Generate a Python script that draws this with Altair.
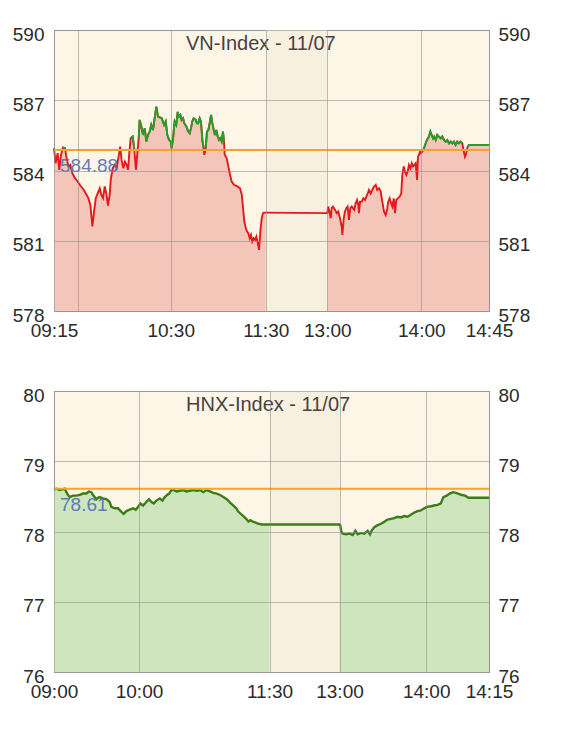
import altair as alt
import pandas as pd

# ---------------- VN-Index (11/07) ----------------
vn_am_time = [555, 556, 557.3, 558.3, 559.4, 560.6, 561.9, 562.7, 564, 565.2,
              566.5, 568.1, 569.8, 571.5, 573.2, 575, 576.7, 578, 579.3, 580.4,
              581.5, 582.8, 584.1, 585.1, 586.2, 587.3, 588.3, 589.4, 590.5, 591.3,
              592.5, 593.7, 595, 596.3, 597.3, 598.2, 599.3, 600.4, 601.5, 602.4,
              603.2, 604.1, 605.4, 606.4, 607.5, 608.4, 609.3, 609.9, 611, 612.1,
              613.2, 614.2, 615.3, 616.4, 617.4, 618.5, 619.6, 620.7, 621.8,
              624.2, 625.7, 626.8, 627.8, 628.9, 630, 630.6, 631.5, 632.5, 633.5,
              634.4, 635.2, 636.1, 636.9, 637.8, 638.6, 639.9, 641.1, 642, 642.8,
              643.6, 644.5, 645.8, 646.6, 647.4, 648.3, 649.1, 650, 650.8, 651.2,
              652.1, 652.9, 653.8, 654.6, 655.5, 656.3, 657.2, 658, 658.8, 659.7,
              660.5, 661.3, 662.2, 663, 663.7, 664.1, 665.4, 666.4, 667.5, 668.5,
              670, 672.1, 673.8, 674.9, 675.7, 676.5, 677.4, 678.2, 679, 679.9,
              680.7, 681.5, 682.4, 683.3, 684.1, 685, 685.8, 686.6, 687.5, 688.3,
              689.1, 690]
vn_am_value = [584.95, 584.31, 584.74, 584.03, 584.67, 584.98, 584.95, 584.60, 584.17, 584.24,
               583.88, 583.67, 583.53, 583.36, 583.22, 583.03, 582.82, 582.53, 581.61, 582.25,
               582.82, 583.03, 583.24, 582.96, 582.82, 583.32, 583.03, 582.50, 582.96, 583.67,
               584.10, 584.24, 584.10, 584.60, 585.02, 584.45, 584.10, 584.38, 584.24, 584.03,
               584.74, 585.38, 585.45, 584.95, 584.03, 584.74, 585.38, 586.16, 585.88, 585.52,
               585.80, 585.24, 585.52, 585.66, 585.95, 585.73, 586.23, 586.73, 586.30,
               586.23, 585.95, 586.09, 585.52, 585.31, 585.24, 584.95, 585.38, 586.09, 585.95,
               586.50, 586.30, 586.37, 586.16, 586.23, 586.02, 585.88, 585.66, 585.59, 585.80,
               586.09, 586.23, 586.16, 586.02, 586.02, 586.23, 586.09, 585.31, 584.95, 584.67,
               584.95, 585.66, 585.73, 586.02, 586.37, 586.02, 585.73, 585.52, 585.73, 585.45,
               585.31, 585.38, 585.24, 585.66, 585.24, 584.67, 584.52, 584.17, 583.81, 583.53,
               583.39, 583.32, 583.24, 582.96, 582.39, 581.82, 581.54, 581.39, 581.32, 581.11,
               581.25, 580.97, 581.11, 581.04, 581.18, 580.90, 580.61, 581.39, 581.96, 582.18,
               582.20, 582.20]
vn_pm_time = [780, 780.6, 781.1, 782.2, 782.8, 783.6, 784.9, 786, 787, 788.1,
              789.2, 789.6, 790.5, 791.3, 792.1, 793, 793.8, 794.7, 795.6, 796.4,
              797.2, 798.1, 799, 799.8, 800.2, 800.9, 802, 803, 804.1, 804.9,
              805.8, 806.6, 807.7, 808.7, 809.8, 810.9, 811.9, 813, 814.1, 815.1,
              816.2, 817.3, 818.3, 818.9, 819.8, 820.7, 821.5, 822.4, 823.2, 824,
              825, 826.2, 827.2, 827.9, 828.8, 829.6, 830.4, 831.3, 832.1, 833,
              833.9, 834.7, 835.6, 836.4, 837.3, 837.9, 838.5, 839.2, 839.8, 840.7,
              841.6, 842.5, 843.3, 844.3, 845.1, 846, 846.9, 847.8, 848.6, 849.6,
              850.6, 851.7, 852.9, 853.9, 855.1, 856.2, 857.3, 858.4, 859.5, 860.6,
              861.7, 862.8, 863.9, 865, 866.1, 867.2, 868.3, 869, 869.8, 870.8,
              871.7, 885]
vn_pm_value = [582.18, 582.46, 582.32, 581.96, 582.39, 582.46, 582.32, 582.18, 582.25, 581.96,
               581.60, 581.25, 581.96, 582.25, 582.39, 582.46, 581.89, 582.39, 582.46, 582.39,
               582.32, 582.60, 582.74, 582.53, 582.18, 582.67, 582.67, 582.81, 582.74, 582.88,
               583.02, 583.17, 583.02, 583.17, 583.31, 583.38, 583.17, 583.24, 583.10, 582.67,
               582.24, 582.10, 582.39, 582.67, 582.81, 582.60, 582.46, 582.81, 582.18, 582.74,
               582.81, 582.88, 583.02, 583.81, 584.17, 583.95, 583.81, 583.95, 584.24, 584.10,
               584.31, 584.17, 584.24, 584.31, 583.60, 584.59, 584.66, 584.81, 584.74, 584.81,
               584.92, 585.09, 585.23, 585.37, 585.45, 585.66, 585.52, 585.37, 585.45, 585.30,
               585.52, 585.45, 585.37, 585.45, 585.30, 585.23, 585.30, 585.16, 585.23, 585.16,
               585.23, 585.09, 585.23, 585.16, 585.23, 585.16, 584.80, 584.59, 584.73, 585.02,
               585.09, 585.09]
vn_ref = 584.88
vn_ticks_y = [578, 581, 584, 587, 590]
vn_ticks_x = [555, 570, 630, 690, 780, 840, 885]
vn_hidden_x = [570]

# ---------------- HNX-Index (11/07) ----------------
hnx_am_time = [540, 541.7, 544, 545.9, 547.6, 548.8, 549.9, 551.1, 553.4, 555.8,
               558.1, 560.5, 562.8, 564.7, 566.4, 567.5, 568.7, 569.9, 571, 572.2,
               574.6, 576.9, 579.3, 580.5, 582.8, 585.2, 587.6, 589.2, 591.1, 593.4,
               595.8, 597.7, 599.3, 601, 602.8, 605.1, 606.9, 608.6, 610.2, 612,
               614.3, 616.2, 617.8, 619.4, 620.8, 622.4, 624, 625.9, 628.2, 630.5,
               632.8, 635.1, 637.4, 639.8, 642, 644.3, 646.7, 649, 651.2, 653.6,
               655.9, 658.2, 660.5, 662.8, 665.1, 667, 668.6, 670.2, 672, 673.9,
               675.5, 676.7, 678.5, 680.1, 682.4, 684.8, 687, 689.3, 690]
hnx_am_value = [78.60, 78.61, 78.59, 78.60, 78.61, 78.56, 78.52, 78.49, 78.51, 78.51,
                78.52, 78.54, 78.54, 78.57, 78.56, 78.52, 78.49, 78.46, 78.48, 78.49,
                78.47, 78.46, 78.42, 78.35, 78.33, 78.33, 78.28, 78.25, 78.29, 78.31,
                78.33, 78.31, 78.35, 78.40, 78.37, 78.42, 78.46, 78.42, 78.40, 78.44,
                78.47, 78.44, 78.49, 78.52, 78.54, 78.59, 78.59, 78.57, 78.58, 78.59,
                78.57, 78.58, 78.59, 78.58, 78.59, 78.56, 78.59, 78.57, 78.55, 78.54,
                78.52, 78.49, 78.46, 78.41, 78.37, 78.33, 78.28, 78.25, 78.22, 78.18,
                78.14, 78.16, 78.14, 78.13, 78.11, 78.10, 78.10, 78.10, 78.10]
hnx_pm_time = [780, 780.5, 781.2, 782.3, 784.6, 786.9, 789.2, 791, 792.6, 794.9,
               797.2, 799.5, 801.1, 802.5, 804.1, 806.4, 808.7, 811, 813.2, 815.6,
               817.9, 820.1, 822.5, 824.8, 827.1, 829.4, 831.7, 834, 836.3, 838.6,
               840.2, 841.1, 841.9, 842.7, 843.5, 844.1, 844.9, 845.6, 846.4, 847.1,
               847.6, 848.5, 849.3, 850.1, 851.3, 853, 855]
hnx_pm_value = [78.10, 78.09, 78.00, 77.97, 77.96, 77.97, 77.95, 78.01, 77.96, 77.98,
                77.97, 78.01, 77.96, 78.02, 78.06, 78.09, 78.11, 78.14, 78.17, 78.18,
                78.19, 78.21, 78.20, 78.22, 78.21, 78.24, 78.27, 78.29, 78.30, 78.33,
                78.35, 78.36, 78.37, 78.38, 78.40, 78.49, 78.51, 78.54, 78.56, 78.55,
                78.54, 78.52, 78.51, 78.48, 78.48, 78.48, 78.48]
hnx_ref = 78.61
hnx_ticks_y = [76, 77, 78, 79, 80]
hnx_ticks_x = [540, 600, 690, 780, 840, 855]
hnx_hidden_x = []

W, H = 435, 281
BG = "#fdf6e7"
LUNCH = "#f8f0df"
FONT = "Liberation Sans"


def label_expr(hidden):
    base = ("(floor(datum.value/60) < 10 ? '0' : '') + floor(datum.value/60) + ':' + "
            "(datum.value % 60 < 10 ? '0' : '') + (datum.value % 60)")
    for h in hidden:
        base = f"datum.value == {h} ? '' : " + base
    return base


def panel(title, am_t, am_v, pm_t, pm_v, ref, yticks, xticks, xrange, hidden,
          fill, line_color, up_color, line_width):
    df_am = pd.DataFrame({"t": am_t, "v": am_v, "s": "am"})
    df_pm = pd.DataFrame({"t": pm_t, "v": pm_v, "s": "pm"})
    df = pd.concat([df_am, df_pm], ignore_index=True)

    # runs of consecutive points above the reference (for the green part)
    run, rid, prev = [], 0, False
    for val in df["v"]:
        above = val > ref
        if above and not prev:
            rid += 1
        run.append(rid if above else 0)
        prev = above
    df["run"] = run
    df_up = df[df["run"] > 0]

    xscale = alt.Scale(domain=xticks, range=xrange)
    yscale = alt.Scale(domain=[yticks[0], yticks[-1]], zero=False, nice=False)
    xaxis = alt.Axis(values=xticks, labelExpr=label_expr(hidden), title=None,
                     grid=True, ticks=False, tickSize=0, domain=False,
                     labelPadding=10, labelFlush=False, labelOverlap=False,
                     labelFontSize=19, zindex=1)
    yaxis_l = alt.Axis(values=yticks, title=None, grid=True, ticks=False, tickSize=0,
                       domain=False, orient="left", labelPadding=10,
                       labelBaseline="middle", labelOffset=4, labelFontSize=19,
                       zindex=1)
    yaxis_r = alt.Axis(values=yticks, title=None, grid=False, ticks=False, tickSize=0,
                       domain=False, orient="right", labelPadding=9,
                       labelBaseline="middle", labelOffset=4, labelFontSize=19)

    X = alt.X("t:Q", scale=xscale, axis=xaxis)
    Y = alt.Y("v:Q", scale=yscale, axis=yaxis_l)

    lunch = alt.Chart(pd.DataFrame({"t": [690], "t2": [780]})).mark_rect(
        color=LUNCH).encode(x=X, x2="t2:Q", y=alt.value(0), y2=alt.value(H))
    area = alt.Chart(df).mark_area(color=fill, opacity=1).encode(
        x=X, y=Y, y2=alt.datum(yticks[0]), detail="s:N")
    line = alt.Chart(df).mark_line(color=line_color, strokeWidth=line_width).encode(x=X, y=Y)
    layers = [lunch, area, line]
    if up_color != line_color and len(df_up):
        up = alt.Chart(df_up).mark_line(color=up_color, strokeWidth=line_width).encode(
            x=X, y=Y, detail="run:N")
        layers.append(up)

    df_ref = pd.DataFrame({"v": [ref], "label": [f"{ref:.2f}"], "title": [title]})
    rule = alt.Chart(df_ref).mark_rule(color="#f4a522", strokeWidth=2).encode(y=Y)
    ref_txt = alt.Chart(df_ref).mark_text(
        align="left", baseline="middle", dy=16, fontSize=19, font=FONT,
        color="#4f71b5", opacity=0.9).encode(x=alt.value(6), y=Y, text="label:N")
    title_txt = alt.Chart(df_ref).mark_text(
        align="left", baseline="middle", fontSize=20, font=FONT,
        color="#444444").encode(x=alt.value(132), y=alt.value(14), text="title:N")
    layers += [rule, ref_txt, title_txt]

    right = alt.Chart(df_ref).mark_point(opacity=0).encode(
        y=alt.Y("v:Q", scale=yscale, axis=yaxis_r))

    return alt.layer(alt.layer(*layers), right).resolve_scale(y="independent").properties(
        width=W, height=H)


p1 = panel("VN-Index - 11/07", vn_am_time, vn_am_value, vn_pm_time, vn_pm_value, vn_ref,
           vn_ticks_y, vn_ticks_x, [0, 24, 116.7, 211.7, 273.3, 367.3, 435], vn_hidden_x,
           "#f4c6ba", "#e3191c", "#22a02a", 1.9)
p2 = panel("HNX-Index - 11/07", hnx_am_time, hnx_am_value, hnx_pm_time, hnx_pm_value, hnx_ref,
           hnx_ticks_y, hnx_ticks_x, [0, 85, 215.5, 285.5, 372.2, 435], hnx_hidden_x,
           "#cfe5bd", "#3b7d16", "#3b7d16", 2.4)

chart = alt.vconcat(p1, p2, spacing=44).resolve_scale(
    x="independent", y="independent").properties(
    padding={"left": 3, "top": 16, "right": 5, "bottom": 5},
    background="white",
).configure_view(fill=BG, stroke="#a0a0a0", strokeWidth=1).configure_axis(
    labelFont=FONT, labelColor="#2a2a2a", gridColor="#8a8a8a", gridOpacity=0.55,
    gridWidth=1)

chart.save("out.html", embed_options={"renderer": "svg", "actions": False})
